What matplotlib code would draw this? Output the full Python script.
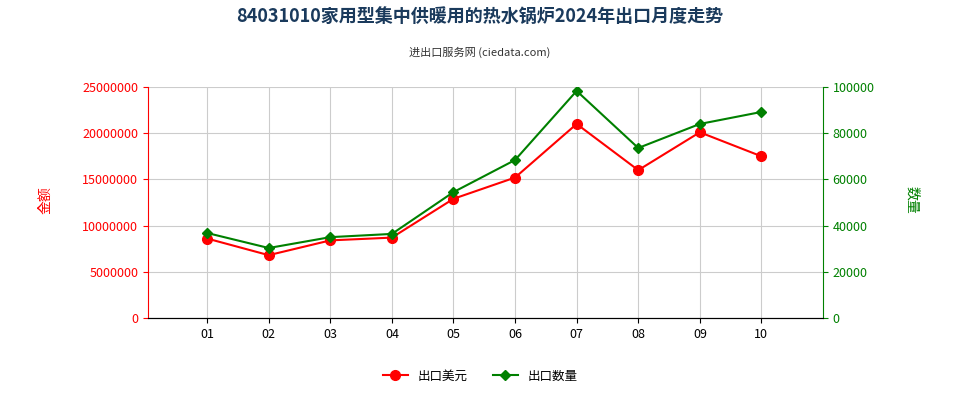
import matplotlib
matplotlib.use("Agg")
import matplotlib.pyplot as plt
from matplotlib import font_manager as fm

months = ["01","02","03","04","05","06","07","08","09","10"]
amount = [8600000, 6800000, 8400000, 8700000, 12900000, 15200000, 21000000, 16000000, 20100000, 17500000]
quantity = [36800, 30300, 35000, 36400, 54500, 68400, 98300, 73600, 84000, 89200]

cjk = [f for f in fm.fontManager.ttflist if "CJK" in f.name]
names = sorted({f.name for f in cjk}, key=lambda n: (0 if "SC" in n else 1, n))
if names:
    plt.rcParams["font.family"] = names[:1] + ["DejaVu Sans"]
else:
    for p in fm.findSystemFonts():
        if "CJK" in p or "cjk" in p.lower():
            fm.fontManager.addfont(p)
    names = sorted({f.name for f in fm.fontManager.ttflist if "CJK" in f.name})
    plt.rcParams["font.family"] = names[:1] + ["DejaVu Sans"]

fig = plt.figure(figsize=(9.6, 4.0), dpi=100)
ax = fig.add_axes([148/960, 1-318/400, (823-148)/960, (318-87)/400])
ax2 = ax.twinx()
x = list(range(len(months)))
ax.plot(x, amount, color="#ff0000", marker="o", markersize=7, linewidth=1.5, label="出口美元")
ax2.plot(x, quantity, color="#008000", marker="D", markersize=5, linewidth=1.5, label="出口数量")
ax.set_xlim(-0.96, 10)
ax.set_ylim(0, 25000000)
ax2.set_ylim(0, 100000)
ax.set_xticks(x)
ax.set_xticklabels(months, fontsize=9)
ax.set_yticks(range(0, 25000001, 5000000))
ax.set_yticklabels([str(v) for v in range(0, 25000001, 5000000)], fontsize=9, color="#ff0000")
ax2.set_yticks(range(0, 100001, 20000))
ax2.set_yticklabels([str(v) for v in range(0, 100001, 20000)], fontsize=9, color="#008000")
ax.grid(True, color="#cccccc", linewidth=0.8)
ax.set_axisbelow(True)
for s in ["top", "right"]:
    ax.spines[s].set_visible(False)
ax2.spines["top"].set_visible(False)
ax.spines["left"].set_color("#ff0000")
ax2.spines["left"].set_visible(False)
ax2.spines["right"].set_color("#008000")
ax.spines["bottom"].set_color("#333333")
ax.tick_params(axis="y", colors="#ff0000")
ax2.tick_params(axis="y", colors="#008000")
fig.text(45/960, 0.5, "金额", color="#ff0000", fontsize=10, rotation=90, ha="center", va="center")
fig.text(912/960, 0.5, "数量", color="#008000", fontsize=10, rotation=270, ha="center", va="center")
fig.text(0.5, 0.945, "84031010家用型集中供暖用的热水锅炉2024年出口月度走势", ha="center", fontsize=13, fontweight="bold", color="#1a3a5c")
fig.text(0.5, 0.86, "进出口服务网 (ciedata.com)", ha="center", fontsize=8, color="#333333")
h1, l1 = ax.get_legend_handles_labels()
h2, l2 = ax2.get_legend_handles_labels()
fig.legend(h1+h2, l1+l2, loc="center", bbox_to_anchor=(0.5, 0.06), ncol=2, frameon=False, fontsize=9)
fig.savefig("out.png", dpi=100)
